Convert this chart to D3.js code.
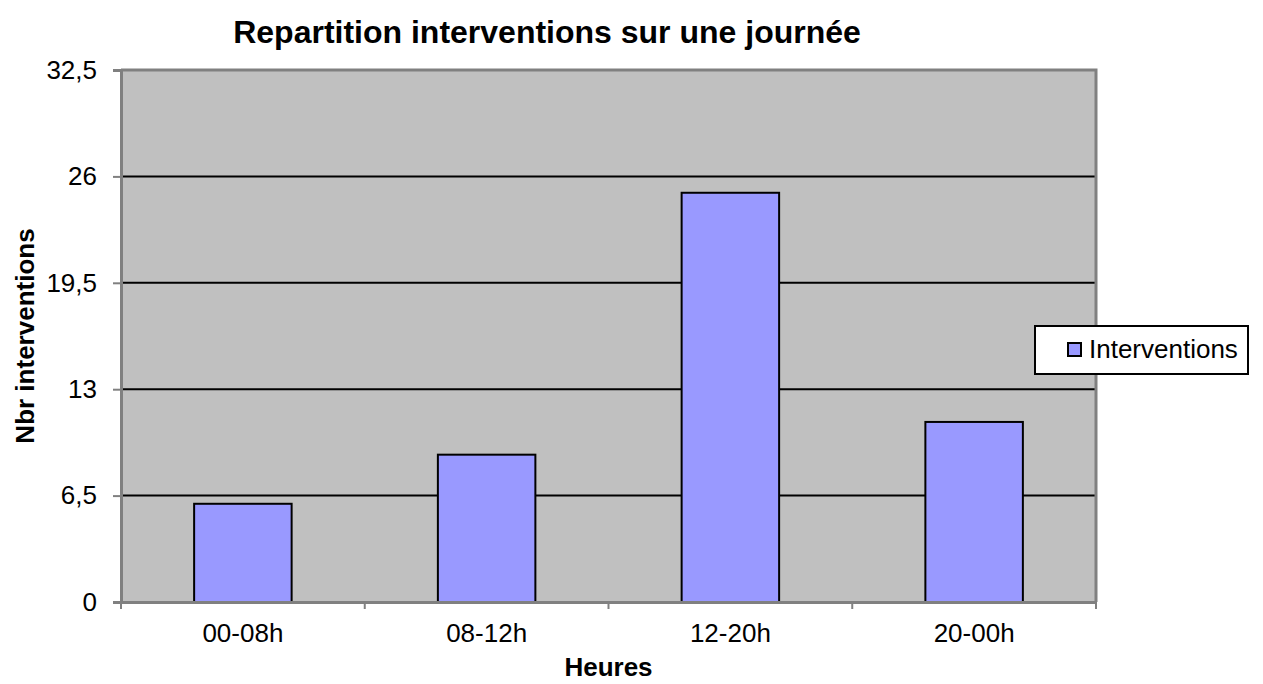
<!DOCTYPE html>
<html>
<head>
<meta charset="utf-8">
<script src="https://cdn.jsdelivr.net/npm/d3@7"></script>
<style>
body { margin: 0; background: #fff; }
text { font-family: "Liberation Sans", Arial, sans-serif; fill: #000; }
</style>
</head>
<body>
<div id="chart"></div>
<script>
var categories = ["00-08h", "08-12h", "12-20h", "20-00h"],
    values = [6, 9, 25, 11],
    yTicks = [0, 6.5, 13, 19.5, 26, 32.5],
    seriesName = "Interventions";

var W = 1263, H = 684,
    margin = { top: 70, right: 167, bottom: 82, left: 121 },
    width = W - margin.left - margin.right,
    height = H - margin.top - margin.bottom;

var svg = d3.select("#chart").append("svg")
    .attr("width", W)
    .attr("height", H);

var g = svg.append("g")
    .attr("transform", "translate(" + margin.left + "," + margin.top + ")");

var x = d3.scaleBand().domain(categories).range([0, width]).paddingInner(0.6).paddingOuter(0.3);
var xOuter = d3.scaleBand().domain(categories).range([0, width]);
var y = d3.scaleLinear().domain([0, 32.5]).range([height, 0]);

// plot background
g.append("rect")
    .attr("width", width)
    .attr("height", height)
    .style("fill", "#c0c0c0");

// gridlines
g.selectAll(".grid")
    .data(yTicks.filter(function(d) { return d > 0 && d < 32.5; }))
    .enter().append("line")
    .attr("x1", 0)
    .attr("x2", width)
    .attr("y1", function(d) { return y(d); })
    .attr("y2", function(d) { return y(d); })
    .style("stroke", "#000")
    .style("stroke-width", 2);

// bars
g.selectAll(".bar")
    .data(values)
    .enter().append("rect")
    .attr("x", function(d, i) { return x(categories[i]); })
    .attr("y", function(d) { return y(d); })
    .attr("width", x.bandwidth())
    .attr("height", function(d) { return height - y(d); })
    .style("fill", "#9999ff")
    .style("stroke", "#000")
    .style("stroke-width", 2);

// frame top/right
g.append("path")
    .attr("d", "M0,0H" + width + "V" + height)
    .style("fill", "none")
    .style("stroke", "#808080")
    .style("stroke-width", 3);

// y axis
var yAxis = g.append("g")
    .call(d3.axisLeft(y).tickValues(yTicks).tickSize(8).tickPadding(16)
        .tickFormat(function(d) { return String(d).replace(".", ","); }));
yAxis.select(".domain").style("stroke", "#808080").style("stroke-width", 3);
yAxis.selectAll(".tick line").style("stroke", "#808080").style("stroke-width", 2);
yAxis.selectAll("text").style("font-size", "26px").style("font-family", "Liberation Sans, Arial, sans-serif");

// x axis
var xAxis = g.append("g")
    .attr("transform", "translate(0," + height + ")")
    .call(d3.axisBottom(xOuter).tickSize(0).tickPadding(22));
xAxis.select(".domain").style("stroke", "#808080").style("stroke-width", 3);
xAxis.selectAll("text").style("font-size", "26px").style("font-family", "Liberation Sans, Arial, sans-serif");

// x ticks between categories
g.selectAll(".xtick")
    .data(d3.range(categories.length + 1))
    .enter().append("line")
    .attr("x1", function(i) { return i * xOuter.step(); })
    .attr("x2", function(i) { return i * xOuter.step(); })
    .attr("y1", height)
    .attr("y2", height + 7)
    .style("stroke", "#808080")
    .style("stroke-width", 2);

// title
svg.append("text")
    .attr("x", 547)
    .attr("y", 43)
    .attr("text-anchor", "middle")
    .style("font-size", "32px")
    .style("font-weight", "bold")
    .text("Repartition interventions sur une journée");

// axis titles
svg.append("text")
    .attr("x", margin.left + width / 2)
    .attr("y", 676)
    .attr("text-anchor", "middle")
    .style("font-size", "26px")
    .style("font-weight", "bold")
    .text("Heures");

svg.append("text")
    .attr("transform", "translate(34," + (margin.top + height / 2) + ") rotate(-90)")
    .attr("text-anchor", "middle")
    .style("font-size", "26px")
    .style("font-weight", "bold")
    .text("Nbr interventions");

// legend
var legend = svg.append("g").attr("transform", "translate(1035,326)");
legend.append("rect")
    .attr("width", 213)
    .attr("height", 48)
    .style("fill", "#fff")
    .style("stroke", "#000")
    .style("stroke-width", 2);
legend.append("rect")
    .attr("x", 33)
    .attr("y", 17)
    .attr("width", 13)
    .attr("height", 13)
    .style("fill", "#9999ff")
    .style("stroke", "#000")
    .style("stroke-width", 2);
legend.append("text")
    .attr("x", 54)
    .attr("y", 32)
    .style("font-size", "26px")
    .text(seriesName);
</script>
</body>
</html>
